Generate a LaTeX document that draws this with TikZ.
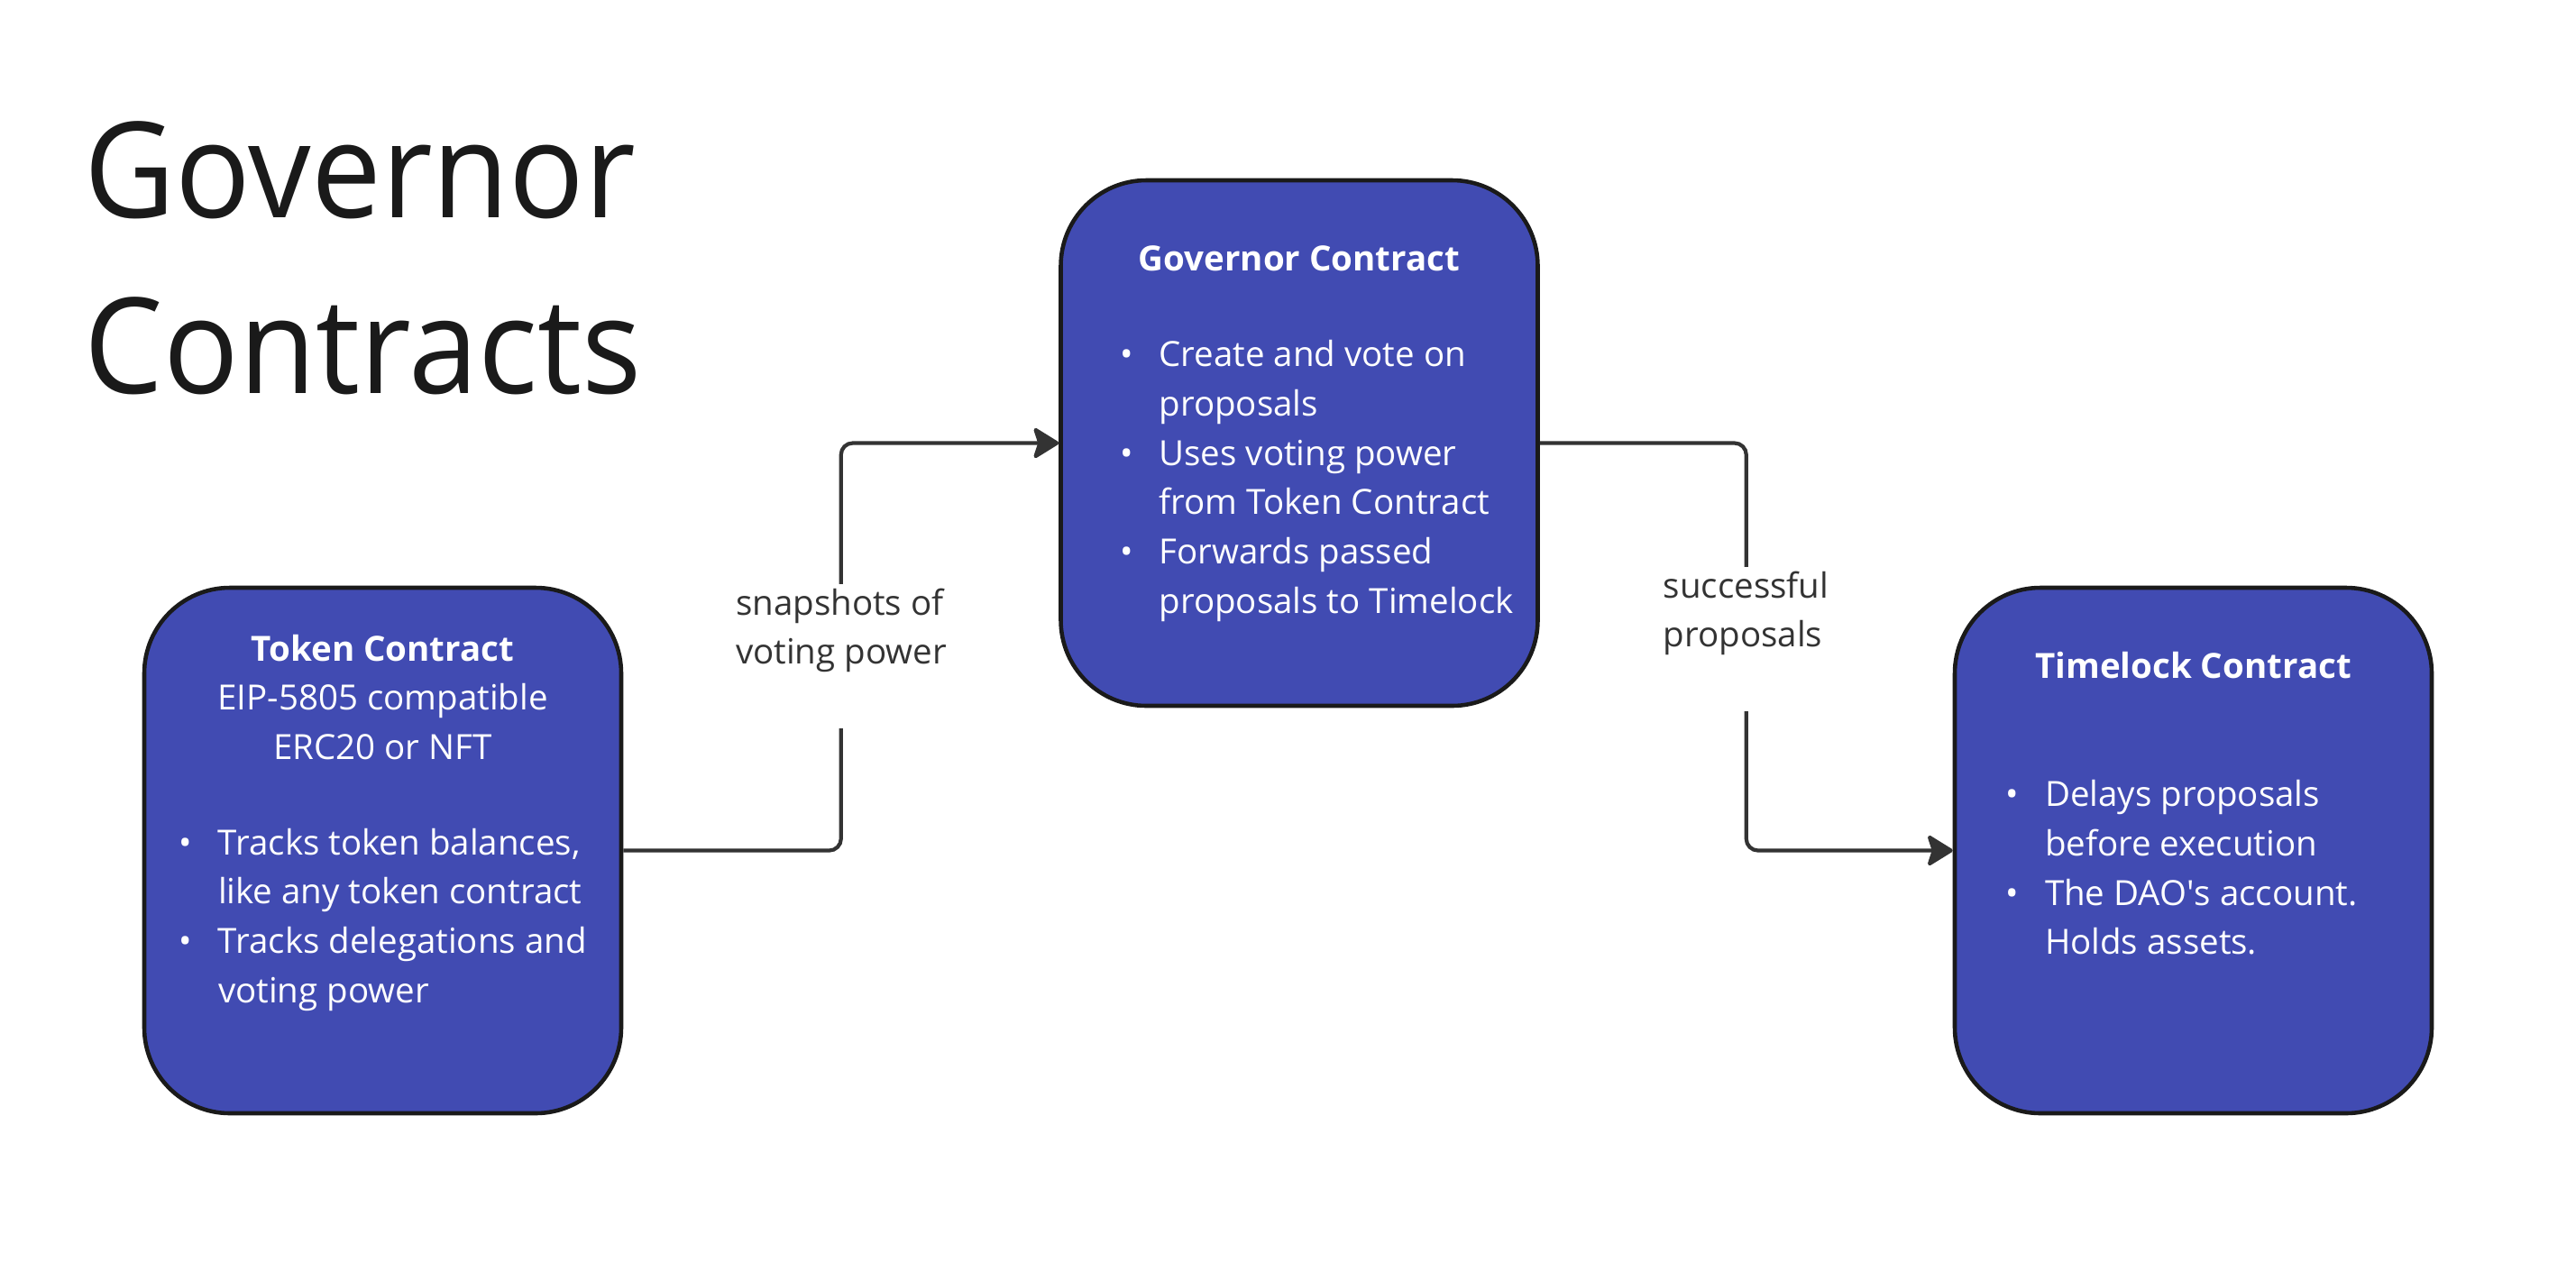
\documentclass[tikz,border=0pt]{standalone}
\usepackage{fontspec}
\setmainfont{Open Sans}
\newfontfamily\titlefont[FakeStretch=0.94]{Open Sans}
\usetikzlibrary{arrows.meta,positioning,calc}
\definecolor{GovBlue}{HTML}{414BB2}
\definecolor{GovInk}{HTML}{1A1A1A}
\definecolor{GovLine}{HTML}{333333}
\newcommand{\govtext}{\fontsize{10.95}{15.55}\selectfont}
\newcommand{\boxtext}[2]{\parbox[c][5.83cm][t]{5.29cm}{\vspace*{#1}#2}}
\newcommand{\boxhead}[1]{{\centering\strut\bfseries #1\par}}
\newcommand{\bitem}[1]{\par\hangindent=#1\hangafter=1\noindent\hspace*{\dimexpr#1-0.36cm\relax}%
  \makebox[0pt]{\textbullet}\hspace*{0.36cm}\ignorespaces}

\begin{document}
\begin{tikzpicture}[
    contract/.style={rounded corners=0.95cm,draw=GovInk,line width=1.3pt,fill=GovBlue,text=white,inner sep=0pt,font=\govtext},
    note/.style={fill=white,text=GovLine,align=left,inner xsep=0.1cm,inner ysep=0.05cm,text depth=0.66cm,font=\govtext},
    heading/.style={text=GovInk,align=left,inner sep=0pt,font=\titlefont\fontsize{42}{55.5}\selectfont},
    arr/.style={-{Stealth[length=0.31cm,width=0.38cm,inset=0.06cm,round]},line width=1.2pt,GovLine,rounded corners=0.13cm}
  ]
    \path[use as bounding box,fill=white] (0,0) rectangle (28.57,-13.99);
    \node[heading,anchor=north west] (title) at (0.93,-1.34) {Governor\\Contracts};

    \node[contract] (token) at (4.245,-9.435) {\boxtext{0.43cm}{\boxhead{Token Contract}
      {\centering EIP-5805 compatible\\ERC20 or NFT\par}
      \vspace{0.51cm}
      \bitem{0.82cm}Tracks token balances,\\like any token contract
      \bitem{0.82cm}Tracks delegations and\\voting power\par}};
    \node[contract] (gov) at (14.41,-4.915) {\boxtext{0.62cm}{\boxhead{Governor Contract}
      \vspace{0.52cm}
      \bitem{1.09cm}Create and vote on\\proposals
      \bitem{1.09cm}Uses voting power\\from Token Contract
      \bitem{1.09cm}Forwards passed\\proposals to Timelock\par}};
    \node[contract] (lock) at (24.325,-9.435) {\boxtext{0.62cm}{\boxhead{Timelock Contract}
      \vspace{0.88cm}
      \bitem{1.00cm}Delays proposals\\before execution
      \bitem{1.00cm}The DAO\textquotesingle s account.\\Holds assets.\par}};

    \draw[arr] (token.east) -| ($(token.east)!0.5!(gov.west)$) |- (gov.west);
    \draw[arr] (gov.east) -| ($(gov.east)!0.5!(lock.west)$) |- (lock.west);
    \node[note,anchor=north] (snap) at (9.33,-6.47) {snapshots of\\voting power};
    \node[note,anchor=north] (pass) at (19.365,-6.28) {successful\\proposals};
  \end{tikzpicture}
\end{document}
